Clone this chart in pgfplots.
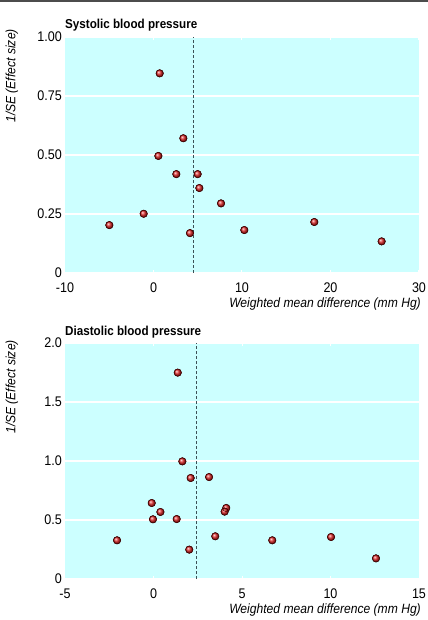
\documentclass[border=0pt]{standalone}
\usepackage{fontspec}
\setmainfont{Liberation Sans}[FakeStretch=0.9]
\usepackage{pgfplots}
\usepackage{pgfplotstable}
\pgfplotsset{compat=1.18}
\definecolor{bgcyan}{HTML}{CCFFFF}
\definecolor{dashc}{RGB}{60,80,85}
\definecolor{ballred}{RGB}{225,45,45}

\pgfplotstableread{
x y
0.70 0.846
3.37 0.571
0.55 0.496
2.58 0.419
4.99 0.419
5.18 0.360
7.63 0.295
-1.11 0.251
-4.99 0.203
4.12 0.169
10.26 0.182
18.17 0.216
25.78 0.134
}\sys

\pgfplotstableread{
x y
1.37 1.749
1.63 0.997
2.10 0.856
3.14 0.864
-0.10 0.644
0.39 0.568
-0.03 0.506
1.31 0.508
4.11 0.602
4.02 0.571
-2.06 0.328
2.02 0.249
3.49 0.362
6.71 0.328
10.03 0.356
12.57 0.175
}\dia

\pgfplotsset{
  funnel/.style={
    scale only axis, width=354bp, height=236bp,
    axis background/.style={fill=bgcyan},
    axis line style={draw=none},
    ymajorgrids, grid style={white, line width=1.3bp},
    tick align=inside, major tick length=3bp,
    xtick style={white, line width=1bp}, ytick style={draw=none},
    /pgf/number format/assume math mode=true,
    tick label style={font=\fontsize{14}{16}\selectfont},
    xticklabel style={anchor=base, yshift=-19bp, inner sep=0pt},
    yticklabel style={anchor=east, xshift=-3bp, inner sep=0pt},
    every axis title/.style={at={(rel axis cs:0,1)}, anchor=base west, yshift=8bp, inner sep=0pt, font=\fontsize{13}{15}\selectfont\bfseries},
    xlabel style={at={(rel axis cs:1,0)}, anchor=base east, yshift=-34bp, xshift=2bp, inner sep=0pt, font=\fontsize{13.5}{16}\selectfont\itshape},
    ylabel style={font=\fontsize{13.5}{16}\selectfont\itshape, inner sep=0pt},
    xlabel={Weighted mean difference (mm Hg)},
  },
  balls/.style={only marks, mark=ball, mark size=3.7bp, ball color=ballred},
  rims/.style={only marks, mark=o, mark size=3.7bp, mark options={draw=black!60!red!80!black, line width=0.5bp}},
}

\begin{document}
\begin{tikzpicture}
\useasboundingbox (-65bp,-347bp) rectangle (363bp,273bp);
\draw[line width=1.5bp, black!70] (-65bp,272bp) -- (363bp,272bp);

\begin{axis}[funnel, at={(0,0)}, anchor=south west,
  title={Systolic blood pressure},
  ylabel={1/SE (Effect size)},
  ylabel style={at={([xshift=-53bp,yshift=8bp]rel axis cs:0,1)}, anchor=east},
  xmin=-10, xmax=30, ymin=0, ymax=1,
  xtick={-10,0,10,20,30}, xticklabels={-10,0,10,20,30},
  ytick={0,0.25,0.5,0.75,1}, yticklabels={0,0.25,0.50,0.75,1.00}]
\addplot[dashc, line width=0.8bp, dash pattern=on 3bp off 2bp] coordinates {(4.5,0) (4.5,1)};
\addplot[balls] table[x=x,y=y] {\sys};
\addplot[rims] table[x=x,y=y] {\sys};
\end{axis}

\begin{axis}[funnel, at={(0,-306bp)}, anchor=south west,
  title={Diastolic blood pressure},
  ylabel={1/SE (Effect size)},
  ylabel style={at={([xshift=-53bp,yshift=3bp]rel axis cs:0,1)}, anchor=east},
  xmin=-5, xmax=15, ymin=0, ymax=2,
  xtick={-5,0,5,10,15}, xticklabels={-5,0,5,10,15},
  ytick={0,0.5,1,1.5,2}, yticklabels={0,0.5,1.0,1.5,2.0}]
\addplot[dashc, line width=0.8bp, dash pattern=on 3bp off 2bp] coordinates {(2.42,0) (2.42,2)};
\addplot[balls] table[x=x,y=y] {\dia};
\addplot[rims] table[x=x,y=y] {\dia};
\end{axis}
\end{tikzpicture}
\end{document}
